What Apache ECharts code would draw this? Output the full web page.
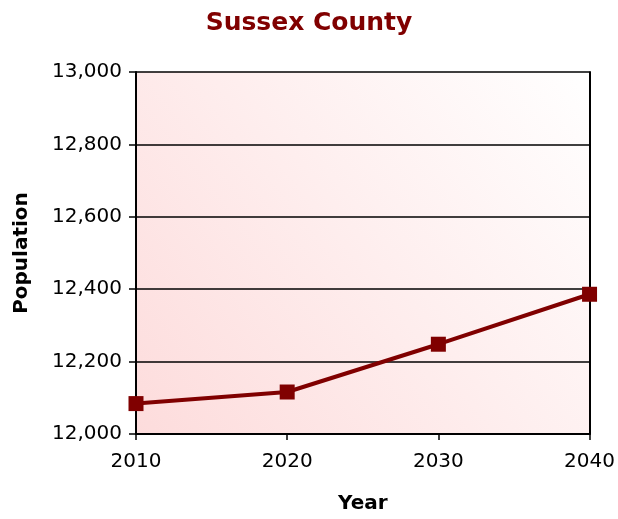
<!DOCTYPE html>
<html><head><meta charset="utf-8">
<script src="https://cdn.jsdelivr.net/npm/echarts@6/dist/echarts.min.js"></script>
<style>html,body{margin:0;padding:0;background:#fff}#c{width:618px;height:519px}</style>
</head><body><div id="c"></div>
<script>
const years = ['2010', '2020', '2030', '2040'];
const population = [12084, 12116, 12248, 12386];
const yTicks = [12000, 12200, 12400, 12600, 12800, 13000];

const chart = echarts.init(document.getElementById('c'));
const yMin = yTicks[0], yMax = yTicks[yTicks.length - 1];
chart.setOption({
  animation: false,
  textStyle: { fontFamily: 'DejaVu Sans' },
  title: {
    text: 'Sussex County', left: 'center', top: 6,
    textStyle: { color: '#800000', fontSize: 25, fontWeight: 'bold', fontFamily: 'DejaVu Sans' }
  },
  grid: {
    left: 136, right: 26, top: 72, bottom: 83,
    show: true, borderWidth: 0,
    backgroundColor: new echarts.graphic.LinearGradient(0, 1, 1, 0, [
      { offset: 0, color: '#fddcdc' },
      { offset: 1, color: '#ffffff' }
    ])
  },
  xAxis: [{
    type: 'category', data: years, boundaryGap: false,
    name: 'Year', nameLocation: 'middle', nameGap: 60,
    nameTextStyle: { fontSize: 20, fontWeight: 'bold', color: '#000' },
    axisLine: { lineStyle: { color: '#000', width: 2 } },
    axisTick: { show: true, length: 6, lineStyle: { color: '#000', width: 1.5 } },
    axisLabel: { fontSize: 20, color: '#000', margin: 18 },
    splitLine: { show: false }
  }],
  yAxis: [{
    type: 'value', min: yMin, max: yMax, interval: 200,
    name: 'Population', nameLocation: 'middle', nameGap: 104, nameRotate: 90,
    nameTextStyle: { fontSize: 20, fontWeight: 'bold', color: '#000' },
    axisLine: { show: true, lineStyle: { color: '#000', width: 2 } },
    axisTick: { show: true, length: 7, lineStyle: { color: '#000', width: 1.5 } },
    axisLabel: {
      fontSize: 20, color: '#000', margin: 14,
      formatter: v => v.toLocaleString('en-US')
    },
    splitLine: { show: true, lineStyle: { color: '#000', width: 1.5 } }
  }, {
    type: 'value', min: yMin, max: yMax, interval: 200, position: 'right',
    axisLine: { show: true, lineStyle: { color: '#000', width: 2 } },
    axisTick: { show: false }, axisLabel: { show: false }, splitLine: { show: false }
  }],
  series: [{
    type: 'line', data: population,
    symbol: 'rect', symbolSize: 15,
    lineStyle: { color: '#800000', width: 4 },
    itemStyle: { color: '#800000' }
  }]
});
</script></body></html>
